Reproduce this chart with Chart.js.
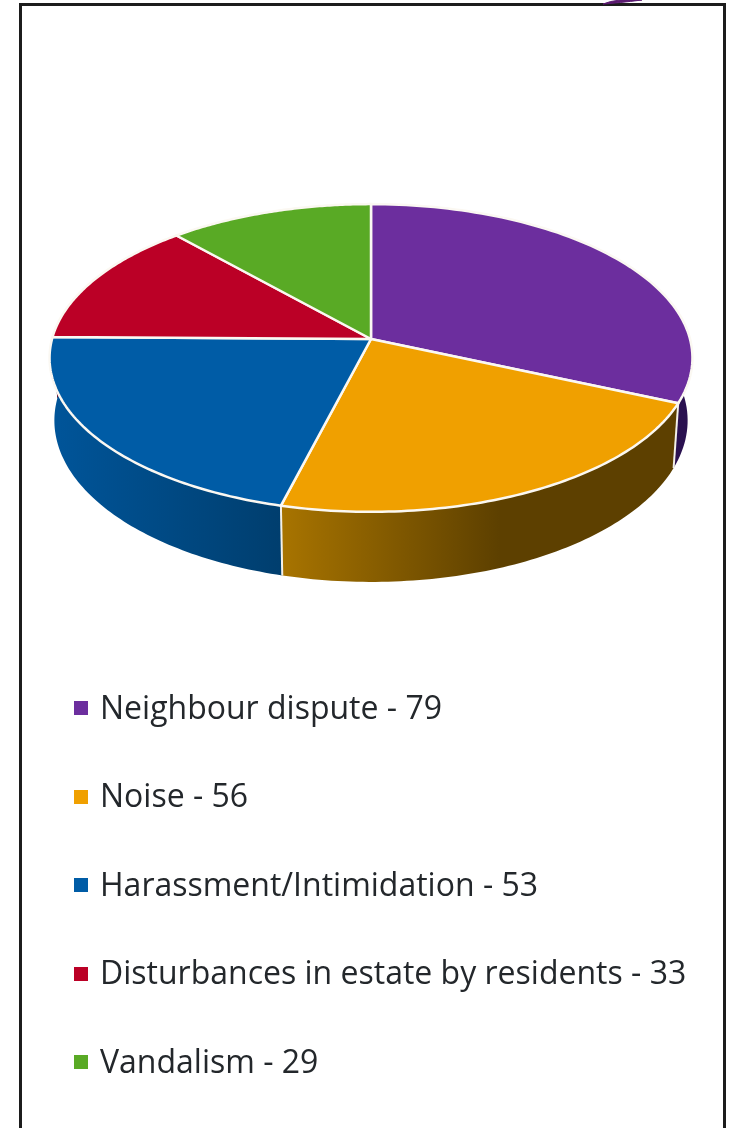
<!DOCTYPE html>
<html lang="en">
<head>
    <meta charset="UTF-8">
    <title>Incident types</title>
    <style>
        html, body {
            margin: 0;
            padding: 0;
            background: #ffffff;
            overflow: hidden;
        }

        #page {
            position: relative;
            width: 729px;
            height: 1128px;
            overflow: hidden;
        }

        #frame {
            position: absolute;
            left: 19px;
            top: 3px;
            width: 701px;
            height: 1200px;
            border: 3px solid #1c1c1c;
        }

        #corner {
            position: absolute;
            left: 600px;
            top: 0;
        }

        .chart-box {
            position: absolute;
            left: 41px;
            top: 9px;
            width: 660px;
            height: 660px;
        }

        #legend {
            position: absolute;
            left: 74px;
            top: 664px;
            font-family: "Open Sans", sans-serif;
            font-size: 32px;
            color: #23272b;
        }

        .legend-row {
            height: 88.5px;
            display: flex;
            align-items: center;
            white-space: nowrap;
        }

        .legend-row i {
            width: 14px;
            height: 14px;
            margin-right: 12px;
        }

        .legend-row span {
            position: relative;
            top: -2px;
        }
    </style>
    <script src="https://cdn.jsdelivr.net/npm/chart.js"></script>
</head>
<body>
    <div id="page">
        <div id="frame"></div>
        <svg id="corner" width="60" height="6">
            <path d="M3 4 Q18 3 42 0 L20 0 Q10 1 3 4 Z" fill="#5b1a70" stroke="#5b1a70"></path>
        </svg>
        <div class="chart-box">
            <canvas id="myChart" width="660" height="660"></canvas>
        </div>
        <div id="legend"></div>
    </div>

    <script>
        const categories = ['Neighbour dispute', 'Noise', 'Harassment/Intimidation', 'Disturbances in estate by residents', 'Vandalism'];
        const values = [79, 56, 53, 33, 29];
        const colors = ['#6c2e9e', '#f0a000', '#005ca6', '#bb0026', '#59aa25'];
        // wall shading per slice, left to right, and how far across the fade runs
        const wallLeft = ['#2a1150', '#a87400', '#00559a', '#700018', '#356615'];
        const wallRight = ['#2a1150', '#5d4000', '#003e6e', '#700018', '#356615'];
        const wallFade = [1, 0.55, 1, 1, 1];

        // the tilt of the pie, worked out from where the slices meet the rim
        const squash = 0.475;
        const perspective = 0.1233;
        const wallScaleX = 0.985;
        const wallScaleY = 1.049;
        const wallDrop = 61.6;

        function topPoint(arc, angle) {
            const u = Math.cos(angle), v = Math.sin(angle);
            const w = 1 - perspective * v;
            return {
                x: arc.x + arc.outerRadius * u / w,
                y: arc.y + arc.outerRadius * squash * v / w
            };
        }

        function bottomPoint(arc, angle) {
            const u = Math.cos(angle), v = Math.sin(angle);
            const w = 1 - perspective * v;
            return {
                x: arc.x + wallScaleX * arc.outerRadius * u / w,
                y: arc.y + wallDrop + wallScaleY * arc.outerRadius * squash * v / w
            };
        }

        function sampleAngles(arc) {
            const list = [];
            const steps = 80;
            for (let i = 0; i <= steps; i++) {
                list.push(arc.startAngle + (arc.endAngle - arc.startAngle) * i / steps);
            }
            return list;
        }

        const tiltedPie = {
            id: 'tiltedPie',
            beforeDatasetsDraw(chart) {
                const ctx = chart.ctx;
                const arcs = chart.getDatasetMeta(0).data;
                ctx.save();
                ctx.lineJoin = 'round';

                // walls first, the top faces cover whatever is behind them
                arcs.forEach((arc, i) => {
                    const angles = sampleAngles(arc);
                    const top = angles.map(a => topPoint(arc, a));
                    const bottom = angles.map(a => bottomPoint(arc, a));
                    const xs = top.concat(bottom).map(p => p.x);
                    const minX = Math.min(...xs);
                    const maxX = Math.max(...xs);
                    const grad = ctx.createLinearGradient(minX, 0, minX + (maxX - minX) * wallFade[i], 0);
                    grad.addColorStop(0, wallLeft[i]);
                    grad.addColorStop(1, wallRight[i]);
                    ctx.beginPath();
                    top.forEach((p, n) => n ? ctx.lineTo(p.x, p.y) : ctx.moveTo(p.x, p.y));
                    bottom.reverse().forEach(p => ctx.lineTo(p.x, p.y));
                    ctx.closePath();
                    ctx.fillStyle = grad;
                    ctx.fill();
                });

                // white seams between the visible walls
                arcs.forEach(arc => {
                    const a = arc.endAngle;
                    if (Math.sin(a) > 0) {
                        const p = topPoint(arc, a), q = bottomPoint(arc, a);
                        ctx.beginPath();
                        ctx.moveTo(p.x, p.y);
                        ctx.lineTo(q.x, q.y);
                        ctx.strokeStyle = '#f4f1ea';
                        ctx.lineWidth = 2;
                        ctx.stroke();
                    }
                });

                arcs.forEach((arc, i) => {
                    ctx.beginPath();
                    ctx.moveTo(arc.x, arc.y);
                    sampleAngles(arc).forEach(a => {
                        const p = topPoint(arc, a);
                        ctx.lineTo(p.x, p.y);
                    });
                    ctx.closePath();
                    ctx.fillStyle = colors[i];
                    ctx.fill();
                    ctx.strokeStyle = '#fbf8f2';
                    ctx.lineWidth = 2.5;
                    ctx.stroke();
                });

                ctx.restore();
                return false;
            }
        };

        new Chart(document.getElementById('myChart'), {
            type: 'pie',
            data: {
                labels: categories,
                datasets: [{
                    data: values,
                    backgroundColor: colors,
                    borderWidth: 0
                }]
            },
            options: {
                responsive: false,
                animation: false,
                layout: { padding: 11 },
                plugins: {
                    legend: { display: false },
                    tooltip: { enabled: false }
                }
            },
            plugins: [tiltedPie]
        });

        const legend = document.getElementById('legend');
        categories.forEach((name, i) => {
            const row = document.createElement('div');
            row.className = 'legend-row';
            const box = document.createElement('i');
            box.style.background = colors[i];
            const label = document.createElement('span');
            label.textContent = name + ' - ' + values[i];
            row.appendChild(box);
            row.appendChild(label);
            legend.appendChild(row);
        });
    </script>
</body>
</html>
